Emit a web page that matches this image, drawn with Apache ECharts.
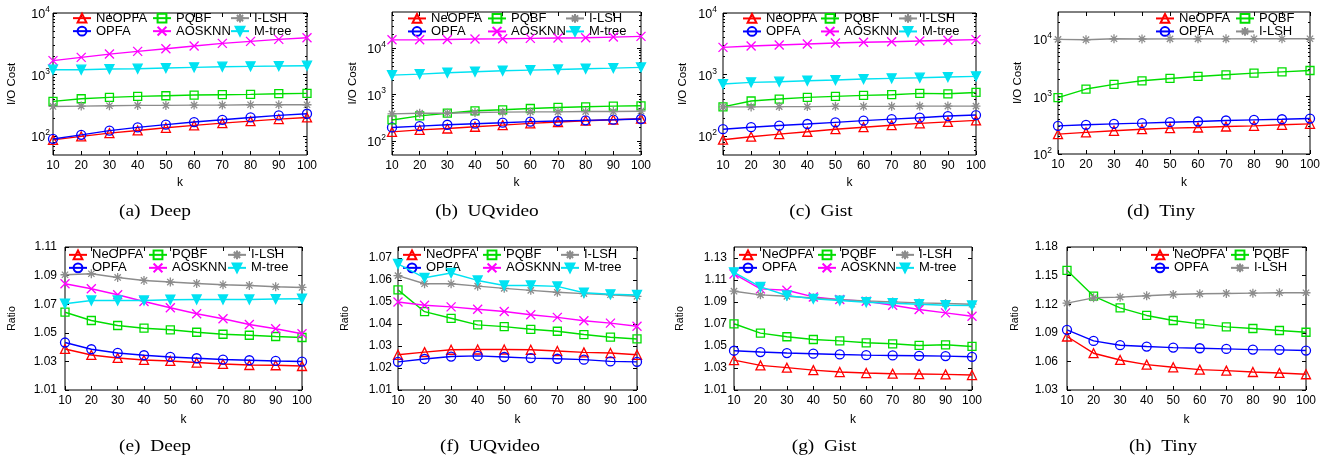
<!DOCTYPE html>
<html><head><meta charset="utf-8">
<script src="https://cdn.jsdelivr.net/npm/echarts@6/dist/echarts.min.js"></script>
<style>html,body{margin:0;padding:0;background:#fff}#c{width:1337px;height:462px}</style>
</head><body><div id="c"></div>
<script>
const ks = [10,20,30,40,50,60,70,80,90,100];
const names = ['NeOPFA','OPFA','PQBF','AOSKNN','I-LSH','M-tree'];

// (a) Deep - I/O cost
const ioDeepNeOPFA = [88,100,113,125,138,151,164,177,191,203];
const ioDeepOPFA   = [91,106,124,140,155,171,186,203,219,233];
const ioDeepPQBF   = [370,408,429,445,456,468,474,480,492,498];
const ioDeepAOSKNN = [1690,1910,2160,2390,2640,2920,3220,3470,3740,3980];
const ioDeepILSH   = [306,310,314,318,318,322,322,326,326,326];
const ioDeepMtree  = [1205,1205,1236,1251,1283,1315,1348,1365,1382,1400];
// (b) UQvideo - I/O cost
const ioUqNeOPFA = [157,174,186,203,220,240,257,274,288,303];
const ioUqOPFA   = [196,209,224,236,248,261,270,279,288,298];
const ioUqPQBF   = [284,347,397,447,470,502,528,546,565,574];
const ioUqAOSKNN = [15100,15100,15400,15700,15900,16200,16500,16700,17300,17900];
const ioUqILSH   = [384,397,397,411,418,424,424,431,431,439];
const ioUqMtree  = [2620,2760,2950,3100,3260,3370,3480,3600,3720,3850];
// (c) Gist - I/O cost
const ioGistNeOPFA = [88.5,99,109,119,131,141,152,163,172,182];
const ioGistOPFA   = [131,141,150,159,169,180,191,201,214,222];
const ioGistPQBF   = [301,375,403,429,445,462,474,498,491,516];
const ioGistAOSKNN = [2770,2920,3030,3140,3260,3350,3430,3520,3610,3700];
const ioGistILSH   = [301,301,304,304,307,307,307,310,310,310];
const ioGistMtree  = [706,752,770,799,820,851,873,894,916,940];
// (d) Tiny - I/O cost
const ioTinyNeOPFA = [222,238,254,271,283,290,302,310,323,336];
const ioTinyOPFA   = [310,323,336,345,359,369,384,394,404,415];
const ioTinyPQBF   = [961,1358,1636,1893,2078,2253,2408,2573,2713,2864];
const ioTinyILSH   = [10000,9850,10250,10150,10200,10200,10200,10250,10250,10250];
// (e) Deep - ratio
const rtDeepNeOPFA = [1.0387,1.0345,1.0324,1.0310,1.0303,1.0292,1.0282,1.0275,1.0273,1.0268];
const rtDeepOPFA   = [1.0432,1.0385,1.0359,1.0343,1.0331,1.0322,1.0313,1.0308,1.0303,1.0299];
const rtDeepPQBF   = [1.0644,1.0586,1.0551,1.0532,1.0521,1.0504,1.0490,1.0483,1.0474,1.0467];
const rtDeepAOSKNN = [1.0843,1.0808,1.0766,1.0719,1.0675,1.0633,1.0598,1.0558,1.0528,1.0493];
const rtDeepILSH   = [1.0906,1.0913,1.0887,1.0866,1.0855,1.0845,1.0836,1.0831,1.0822,1.0817];
const rtDeepMtree  = [1.0703,1.0726,1.0726,1.0726,1.0731,1.0733,1.0733,1.0733,1.0736,1.0738];
// (f) UQvideo - ratio
const rtUqNeOPFA = [1.0260,1.0272,1.0283,1.0284,1.0284,1.0283,1.0277,1.0271,1.0268,1.0260];
const rtUqOPFA   = [1.0228,1.0241,1.0252,1.0255,1.0250,1.0245,1.0242,1.0238,1.0230,1.0228];
const rtUqPQBF   = [1.0555,1.0456,1.0426,1.0396,1.0388,1.0376,1.0367,1.0352,1.0340,1.0332];
const rtUqAOSKNN = [1.0500,1.0485,1.0478,1.0467,1.0457,1.0442,1.0430,1.0415,1.0404,1.0390];
const rtUqILSH   = [1.0620,1.0583,1.0583,1.0572,1.0562,1.0553,1.0544,1.0538,1.0533,1.0526];
const rtUqMtree  = [1.0673,1.0610,1.0632,1.0598,1.0575,1.0575,1.0571,1.0542,1.0535,1.0532];
// (g) Gist - ratio
const rtGistNeOPFA = [1.0372,1.0324,1.0303,1.0281,1.0263,1.0254,1.0248,1.0245,1.0242,1.0236];
const rtGistOPFA   = [1.0457,1.0445,1.0436,1.0430,1.0423,1.0417,1.0414,1.0411,1.0408,1.0402];
const rtGistPQBF   = [1.0702,1.0617,1.0584,1.0559,1.0547,1.0529,1.0520,1.0505,1.0511,1.0496];
const rtGistAOSKNN = [1.1155,1.1019,1.1007,1.0946,1.0922,1.0907,1.0871,1.0832,1.0801,1.0771];
const rtGistILSH   = [1.0998,1.0965,1.0952,1.0937,1.0922,1.0910,1.0901,1.0892,1.0886,1.0880];
const rtGistMtree  = [1.1170,1.1037,1.0959,1.0928,1.0913,1.0898,1.0889,1.0880,1.0871,1.0868];
// (h) Tiny - ratio
const rtTinyNeOPFA = [1.0861,1.0686,1.0615,1.0566,1.0538,1.0514,1.0503,1.0489,1.0479,1.0465];
const rtTinyOPFA   = [1.0931,1.0815,1.0770,1.0756,1.0745,1.0738,1.0731,1.0724,1.0721,1.0714];
const rtTinyPQBF   = [1.1555,1.1285,1.1162,1.1082,1.1029,1.0994,1.0962,1.0945,1.0924,1.0906];
const rtTinyILSH   = [1.1211,1.1267,1.1274,1.1288,1.1302,1.1309,1.1313,1.1316,1.1320,1.1320];

// y-axis tick labels
const ioTicksDeep = [100,1000,10000];
const ioTicksUq = [100,1000,10000];
const ioTicksGist = [100,1000,10000];
const ioTicksTiny = [100,1000,10000];
const rtTicksDeep = [1.01,1.03,1.05,1.07,1.09,1.11];
const rtTicksUq = [1.01,1.02,1.03,1.04,1.05,1.06,1.07];
const rtTicksGist = [1.01,1.03,1.05,1.07,1.09,1.11,1.13];
const rtTicksTiny = [1.03,1.06,1.09,1.12,1.15,1.18];

const captions = ['(a)\u2002Deep','(b)\u2002UQvideo','(c)\u2002Gist','(d)\u2002Tiny','(e)\u2002Deep','(f)\u2002UQvideo','(g)\u2002Gist','(h)\u2002Tiny'];

// ---------- layout / style ----------
const COLORS = {'NeOPFA':'#ff0000','OPFA':'#0000ff','PQBF':'#00dd00','AOSKNN':'#ff00ff','I-LSH':'#8c8c8c','M-tree':'#00e2f2'};
const SYM = {
  'NeOPFA':{symbol:'triangle', fill:'transparent', size:9},
  'OPFA':{symbol:'circle', fill:'transparent', size:9},
  'PQBF':{symbol:'rect', fill:'transparent', size:8},
  'AOSKNN':{symbol:'path://M0,0L10,10M10,0L0,10', fill:'transparent', size:9},
  'I-LSH':{symbol:'path://M5,0L5,10M0,5L10,5M1.5,1.5L8.5,8.5M8.5,1.5L1.5,8.5', fill:'transparent', size:9},
  'M-tree':{symbol:'path://M0,0L10,0L5,8.7Z', fill:'#00e2f2', size:9}
};

const panels = [
  {log:true, left:53, top:13, width:254, height:142, ymin:50, ymax:10000, ticks:ioTicksDeep, margin:3, ytitle:'I/O Cost', tx:12, capx:155,
   data:{'NeOPFA':ioDeepNeOPFA,'OPFA':ioDeepOPFA,'PQBF':ioDeepPQBF,'AOSKNN':ioDeepAOSKNN,'I-LSH':ioDeepILSH,'M-tree':ioDeepMtree},
   leg:{cols:[[72,['NeOPFA','OPFA']],[152,['PQBF','AOSKNN']],[230,['I-LSH','M-tree']]], y:18, dy:12.7}},
  {log:true, left:392, top:12, width:249, height:143, ymin:50, ymax:60000, ticks:ioTicksUq, margin:6, ytitle:'I/O Cost', tx:353, capx:487,
   data:{'NeOPFA':ioUqNeOPFA,'OPFA':ioUqOPFA,'PQBF':ioUqPQBF,'AOSKNN':ioUqAOSKNN,'I-LSH':ioUqILSH,'M-tree':ioUqMtree},
   leg:{cols:[[407,['NeOPFA','OPFA']],[487,['PQBF','AOSKNN']],[565,['I-LSH','M-tree']]], y:18.3, dy:12.7}},
  {log:true, left:723, top:13, width:253, height:142, ymin:50, ymax:10000, ticks:ioTicksGist, margin:6, ytitle:'I/O Cost', tx:683, capx:821,
   data:{'NeOPFA':ioGistNeOPFA,'OPFA':ioGistOPFA,'PQBF':ioGistPQBF,'AOSKNN':ioGistAOSKNN,'I-LSH':ioGistILSH,'M-tree':ioGistMtree},
   leg:{cols:[[742,['NeOPFA','OPFA']],[820,['PQBF','AOSKNN']],[898,['I-LSH','M-tree']]], y:18.3, dy:12.7}},
  {log:true, left:1058, top:12, width:252, height:142, ymin:100, ymax:30000, ticks:ioTicksTiny, margin:6, ytitle:'I/O Cost', tx:1018, capx:1161,
   data:{'NeOPFA':ioTinyNeOPFA,'OPFA':ioTinyOPFA,'PQBF':ioTinyPQBF,'I-LSH':ioTinyILSH},
   leg:{cols:[[1155,['NeOPFA','OPFA']],[1235,['PQBF','I-LSH']]], y:18.3, dy:12.7}},
  {log:false, left:65, top:247, width:237, height:143, ymin:1.01, ymax:1.11, ticks:rtTicksDeep, margin:8, ytitle:'Ratio', tx:12, capx:155,
   data:{'NeOPFA':rtDeepNeOPFA,'OPFA':rtDeepOPFA,'PQBF':rtDeepPQBF,'AOSKNN':rtDeepAOSKNN,'I-LSH':rtDeepILSH,'M-tree':rtDeepMtree},
   leg:{cols:[[68,['NeOPFA','OPFA']],[148,['PQBF','AOSKNN']],[227,['I-LSH','M-tree']]], y:254, dy:11.3}},
  {log:false, left:398, top:247, width:239, height:143, ymin:1.01, ymax:1.075, ticks:rtTicksUq, margin:6, ytitle:'Ratio', tx:345, capx:490,
   data:{'NeOPFA':rtUqNeOPFA,'OPFA':rtUqOPFA,'PQBF':rtUqPQBF,'AOSKNN':rtUqAOSKNN,'I-LSH':rtUqILSH,'M-tree':rtUqMtree},
   leg:{cols:[[402,['NeOPFA','OPFA']],[482,['PQBF','AOSKNN']],[560,['I-LSH','M-tree']]], y:254, dy:11.3}},
  {log:false, left:734, top:247, width:238, height:143, ymin:1.01, ymax:1.14, ticks:rtTicksGist, margin:7, ytitle:'Ratio', tx:680, capx:824,
   data:{'NeOPFA':rtGistNeOPFA,'OPFA':rtGistOPFA,'PQBF':rtGistPQBF,'AOSKNN':rtGistAOSKNN,'I-LSH':rtGistILSH,'M-tree':rtGistMtree},
   leg:{cols:[[738,['NeOPFA','OPFA']],[817,['PQBF','AOSKNN']],[895,['I-LSH','M-tree']]], y:254, dy:11.3}},
  {log:false, left:1067, top:247, width:239, height:143, ymin:1.03, ymax:1.18, ticks:rtTicksTiny, margin:9, ytitle:'Ratio', tx:1015, capx:1163,
   data:{'NeOPFA':rtTinyNeOPFA,'OPFA':rtTinyOPFA,'PQBF':rtTinyPQBF,'I-LSH':rtTinyILSH},
   leg:{cols:[[1150,['NeOPFA','OPFA']],[1230,['PQBF','I-LSH']]], y:254, dy:11.3}}
];

const FONT = 'Liberation Sans, Arial, Helvetica, sans-serif';
const grid = [], xAxis = [], yAxis = [], series = [], legend = [], graphic = [];

function minorLogs(lo, hi) {
  const out = [];
  for (let e = -1; e <= 6; e++) for (let m = 2; m <= 9; m++) {
    const v = m * Math.pow(10, e);
    if (v > lo * 1.001 && v < hi * 0.999) out.push(Math.log10(v));
  }
  return out;
}

panels.forEach((p, i) => {
  grid.push({left:p.left, top:p.top, width:p.width, height:p.height, show:true, borderColor:'#000', borderWidth:1, backgroundColor:'transparent'});
  const tickStyle = {lineStyle:{color:'#000', width:1}};
  const xb = xAxis.length;
  ['bottom','top'].forEach((pos, j) => {
    xAxis.push({type:'value', gridIndex:i, min:10, max:100, interval:10, position:pos,
      axisLine:{show:false}, splitLine:{show:false},
      axisTick:Object.assign({show:true, inside:true, length:4}, tickStyle),
      axisLabel:{show:j===0, color:'#000', fontSize:12, fontFamily:FONT, margin:5}});
  });
  const yb = yAxis.length;
  const ymin = p.log ? Math.log10(p.ymin) : p.ymin;
  const ymax = p.log ? Math.log10(p.ymax) : p.ymax;
  const major = p.log ? p.ticks.map(v => Math.log10(v)) : p.ticks;
  ['left','right'].forEach((pos, j) => {
    yAxis.push({type:'value', gridIndex:i, min:ymin, max:ymax, position:pos,
      axisLine:{show:false}, splitLine:{show:false},
      axisTick:Object.assign({show:true, inside:true, length:4, customValues:major}, tickStyle),
      axisLabel:{show:j===0, customValues:major, color:'#000', fontFamily:FONT, margin:p.margin,
        fontSize:12,
        formatter: p.log ? (v => '{b|10}{s|' + Math.round(v) + '}') : (v => v.toFixed(2)),
        rich: {b:{fontSize:12.5, fontFamily:FONT, color:'#000', lineHeight:16, verticalAlign:'bottom'},
               s:{fontSize:8.5, fontFamily:FONT, color:'#000', lineHeight:16, verticalAlign:'top'}}}});
    if (p.log) {
      yAxis.push({type:'value', gridIndex:i, min:ymin, max:ymax, position:pos,
        axisLine:{show:false}, splitLine:{show:false}, axisLabel:{show:false},
        axisTick:Object.assign({show:true, inside:true, length:2, customValues:minorLogs(p.ymin, p.ymax)}, tickStyle)});
    }
  });
  names.forEach((n, si) => {
    const vals = p.data[n];
    if (!vals) return;
    const s = SYM[n];
    series.push({type:'line', name:n, xAxisIndex:xb, yAxisIndex:yb,
      data: ks.map((k, j) => [k, p.log ? Math.log10(vals[j]) : vals[j]]),
      symbol:s.symbol, symbolSize:s.size, showSymbol:true, z:2+si,
      lineStyle:{color:COLORS[n], width:1.4},
      itemStyle:{color:s.fill, borderColor:COLORS[n], borderWidth:1.3},
      emphasis:{disabled:true}, animation:false});
  });
  p.leg.cols.forEach(([lx, items]) => {
    legend.push({orient:'vertical', left:lx, top:p.leg.y - p.leg.dy/2, padding:0, itemGap:0,
      itemWidth:18, itemHeight:11, data:items, selectedMode:false,
      textStyle:{fontSize:13, fontFamily:FONT, color:'#000', lineHeight:p.leg.dy}});
  });
  const row = i < 4 ? 0 : 1;
  graphic.push({type:'text', x:p.tx, y:p.top + p.height/2, rotation:Math.PI/2,
    style:{text:p.ytitle, font:(row ? '10.5px ' : '11.5px ') + FONT, fill:'#000', align:'center', verticalAlign:'middle', textAlign:'center', textVerticalAlign:'middle'}});
  graphic.push({type:'text', x:p.left + p.width/2, y: row ? 420 : 183,
    style:{text:'k', font:'12px ' + FONT, fill:'#000', align:'center', verticalAlign:'middle', textAlign:'center', textVerticalAlign:'middle'}});
  graphic.push({type:'text', x:p.capx, y: row ? 447 : 212, scaleX:1.14,
    style:{text:captions[i], font:'17px "Liberation Serif", "Times New Roman", serif', fill:'#000', align:'center', verticalAlign:'middle', textAlign:'center', textVerticalAlign:'middle'}});
});

const chart = echarts.init(document.getElementById('c'), null, {renderer:'canvas'});
chart.setOption({backgroundColor:'#fff', animation:false, grid, xAxis, yAxis, series, legend, graphic});
</script>
</body></html>
